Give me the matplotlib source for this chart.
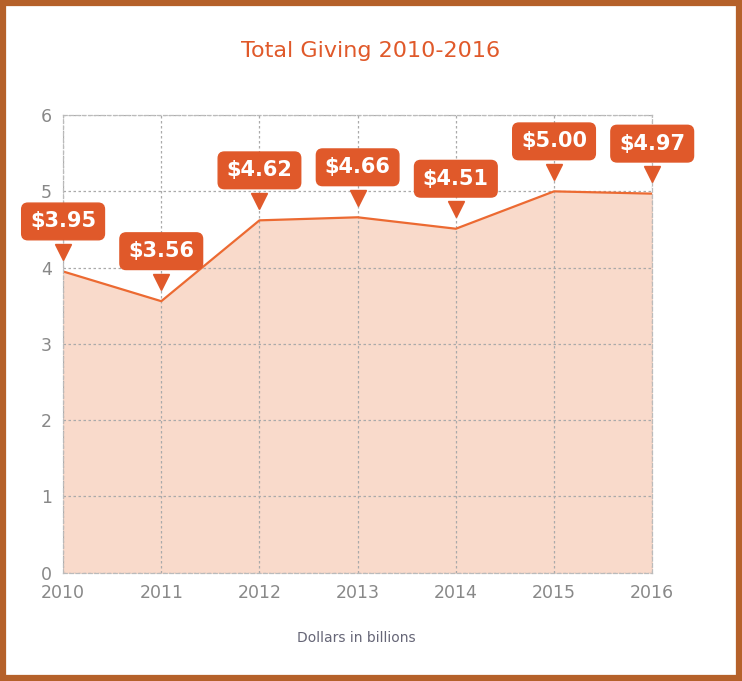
import matplotlib.pyplot as plt
import matplotlib.transforms as mt
from matplotlib.patches import Rectangle

years = [2010, 2011, 2012, 2013, 2014, 2015, 2016]
giving = [3.95, 3.56, 4.62, 4.66, 4.51, 5.00, 4.97]
labels = ["$3.95", "$3.56", "$4.62", "$4.66", "$4.51", "$5.00", "$4.97"]

ORANGE = "#E0592A"
LINE = "#EC6A32"
FILL = "#F9DACB"

fig = plt.figure(figsize=(7.42, 6.81), dpi=100)
ax = fig.add_axes([0.085, 0.159, 0.794, 0.672])

ax.fill_between(years, giving, 0, color=FILL, zorder=1)
ax.plot(years, giving, color=LINE, linewidth=1.6, zorder=2)

ax.set_xlim(2010, 2016)
ax.set_ylim(0, 6)
ax.set_xticks(years)
ax.set_yticks(range(0, 7))
ax.tick_params(colors="#888888", labelsize=12.5, length=0)
ax.tick_params(axis="x", pad=8)
ax.tick_params(axis="y", pad=8)
ax.grid(True, color="#aaaaaa", linestyle=(0, (2, 2)), linewidth=0.9, zorder=0)
for s in ax.spines.values():
    s.set_color("#bbbbbb")
    s.set_linestyle((0, (3, 2)))
    s.set_linewidth(0.9)

shift = mt.ScaledTranslation(0, 14 / 72, fig.dpi_scale_trans)
for x, y, t in zip(years, giving, labels):
    ax.annotate(t, (x, y), xytext=(0, 36), textcoords="offset points",
                ha="center", va="center", color="white", fontsize=15,
                fontweight="bold", zorder=5, annotation_clip=False,
                bbox=dict(boxstyle="round,pad=0.4,rounding_size=0.3", fc=ORANGE, ec=ORANGE))
    tri, = ax.plot([x], [y], marker="v", markersize=11, color=ORANGE,
                   zorder=4, clip_on=False, linestyle="none")
    tri.set_transform(ax.transData + shift)

fig.text(0.5, 0.925, "Total Giving 2010-2016", ha="center", va="center",
         color=ORANGE, fontsize=16)
fig.text(0.48, 0.063, "Dollars in billions", ha="center", va="center",
         color="#666677", fontsize=10)

fig.patches.append(Rectangle((0.004, 0.004), 0.992, 0.992, transform=fig.transFigure,
                             fill=False, ec="#B5612A", lw=4.5))

fig.savefig("out.png", dpi=100)
